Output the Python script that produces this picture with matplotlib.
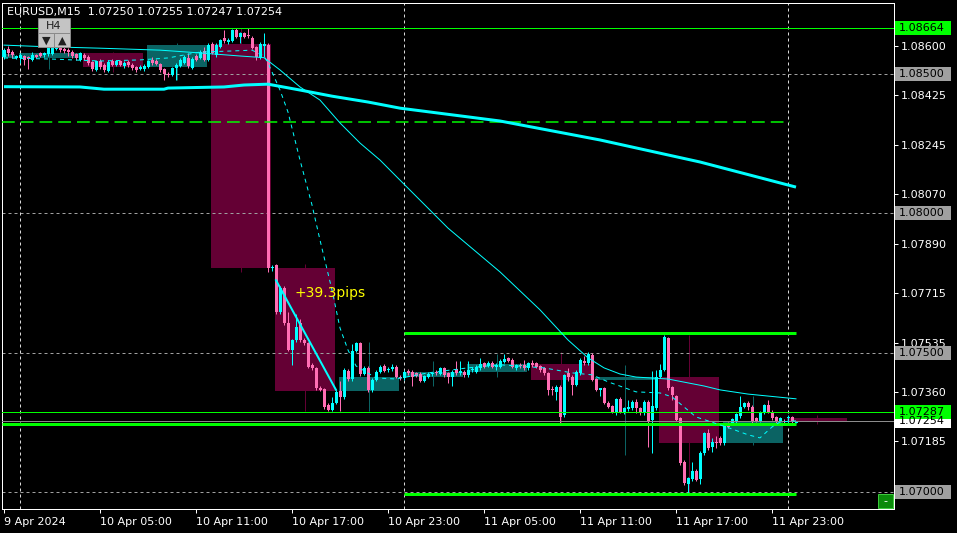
import matplotlib
matplotlib.use("Agg")
import matplotlib.pyplot as plt
import matplotlib.transforms as mtransforms
from matplotlib.patches import Rectangle
import numpy as np

title_text = "EURUSD,M15  1.07250 1.07255 1.07247 1.07254"

# M15 candles, bar 0 = 9 Apr 23:00
opens = [
    1.08561, 1.08590, 1.08580, 1.08558, 1.08558, 1.08563, 1.08560, 1.08549, 1.08568, 1.08573,
    1.08567, 1.08570, 1.08572, 1.08590, 1.08597, 1.08590, 1.08587, 1.08580, 1.08570, 1.08551,
    1.08568, 1.08562, 1.08542, 1.08515, 1.08547, 1.08533, 1.08512, 1.08547, 1.08533, 1.08545,
    1.08528, 1.08543, 1.08533, 1.08524, 1.08518, 1.08517, 1.08524, 1.08550, 1.08547, 1.08536,
    1.08518, 1.08500, 1.08497, 1.08521, 1.08528, 1.08540, 1.08558, 1.08522, 1.08565, 1.08558,
    1.08581, 1.08551, 1.08608, 1.08568, 1.08598, 1.08628, 1.08614, 1.08619, 1.08657, 1.08633,
    1.08645, 1.08640, 1.08629, 1.08597, 1.08558, 1.08600, 1.08605, 1.07804, 1.07815, 1.07647,
    1.07731, 1.07606, 1.07510, 1.07546, 1.07606, 1.07546, 1.07534, 1.07456, 1.07444, 1.07375,
    1.07369, 1.07313, 1.07295, 1.07319, 1.07364, 1.07340, 1.07436, 1.07405, 1.07508, 1.07535,
    1.07424, 1.07447, 1.07365, 1.07402, 1.07432, 1.07452, 1.07437, 1.07441, 1.07450, 1.07415,
    1.07408, 1.07436, 1.07432, 1.07426, 1.07424, 1.07400, 1.07412, 1.07424, 1.07432, 1.07424,
    1.07444, 1.07426, 1.07412, 1.07441, 1.07426, 1.07432, 1.07420, 1.07438, 1.07432, 1.07444,
    1.07462, 1.07452, 1.07464, 1.07450, 1.07450, 1.07468, 1.07480, 1.07474, 1.07444, 1.07458,
    1.07458, 1.07444, 1.07464, 1.07462, 1.07453, 1.07444, 1.07426, 1.07370, 1.07360, 1.07378,
    1.07277, 1.07426, 1.07414, 1.07385, 1.07426, 1.07472, 1.07462, 1.07492, 1.07405, 1.07367,
    1.07373, 1.07321, 1.07309, 1.07283, 1.07333, 1.07289, 1.07298, 1.07301, 1.07325, 1.07301,
    1.07283, 1.07325, 1.07258, 1.07301, 1.07412, 1.07438, 1.07552, 1.07378, 1.07345, 1.07265,
    1.07110, 1.07030, 1.07047, 1.07077, 1.07047, 1.07140, 1.07213, 1.07163, 1.07181, 1.07195,
    1.07176, 1.07247, 1.07247, 1.07253, 1.07273, 1.07307, 1.07321, 1.07307, 1.07265, 1.07257,
    1.07285, 1.07313, 1.07289, 1.07269, 1.07257, 1.07257, 1.07265, 1.07269, 1.07250,
]
highs = [
    1.08593, 1.08600, 1.08586, 1.08568, 1.08575, 1.08568, 1.08565, 1.08579, 1.08572, 1.08580,
    1.08578, 1.08600, 1.08600, 1.08600, 1.08604, 1.08595, 1.08592, 1.08584, 1.08574, 1.08580,
    1.08573, 1.08566, 1.08546, 1.08550, 1.08552, 1.08538, 1.08548, 1.08552, 1.08550, 1.08550,
    1.08545, 1.08548, 1.08538, 1.08528, 1.08530, 1.08534, 1.08550, 1.08562, 1.08552, 1.08540,
    1.08522, 1.08505, 1.08525, 1.08538, 1.08556, 1.08566, 1.08575, 1.08560, 1.08570, 1.08584,
    1.08595, 1.08612, 1.08615, 1.08612, 1.08626, 1.08658, 1.08630, 1.08662, 1.08664, 1.08650,
    1.08650, 1.08666, 1.08634, 1.08601, 1.08613, 1.08645, 1.08610, 1.07815, 1.07820, 1.07738,
    1.07738, 1.07645, 1.07550, 1.07640, 1.07620, 1.07552, 1.07540, 1.07462, 1.07450, 1.07380,
    1.07374, 1.07320, 1.07340, 1.07366, 1.07400, 1.07445, 1.07442, 1.07530, 1.07540, 1.07540,
    1.07452, 1.07452, 1.07408, 1.07440, 1.07455, 1.07460, 1.07448, 1.07460, 1.07455, 1.07420,
    1.07438, 1.07442, 1.07438, 1.07430, 1.07430, 1.07422, 1.07430, 1.07432, 1.07440, 1.07450,
    1.07450, 1.07430, 1.07438, 1.07470, 1.07470, 1.07438, 1.07470, 1.07448, 1.07456, 1.07480,
    1.07468, 1.07470, 1.07470, 1.07462, 1.07476, 1.07495, 1.07486, 1.07480, 1.07460, 1.07465,
    1.07474, 1.07468, 1.07475, 1.07468, 1.07458, 1.07450, 1.07430, 1.07380, 1.07384, 1.07384,
    1.07425, 1.07445, 1.07420, 1.07438, 1.07480, 1.07490, 1.07503, 1.07500, 1.07410, 1.07375,
    1.07378, 1.07326, 1.07314, 1.07338, 1.07340, 1.07306, 1.07330, 1.07330, 1.07335, 1.07306,
    1.07330, 1.07330, 1.07435, 1.07440, 1.07460, 1.07565, 1.07558, 1.07382, 1.07350, 1.07270,
    1.07115, 1.07056, 1.07110, 1.07082, 1.07147, 1.07216, 1.07228, 1.07195, 1.07200, 1.07200,
    1.07246, 1.07252, 1.07266, 1.07285, 1.07346, 1.07324, 1.07328, 1.07312, 1.07270, 1.07290,
    1.07318, 1.07330, 1.07294, 1.07274, 1.07270, 1.07262, 1.07278, 1.07274, 1.07255,
]
lows = [
    1.08554, 1.08565, 1.08558, 1.08554, 1.08540, 1.08533, 1.08517, 1.08545, 1.08558, 1.08560,
    1.08562, 1.08565, 1.08566, 1.08585, 1.08580, 1.08576, 1.08565, 1.08558, 1.08550, 1.08547,
    1.08550, 1.08533, 1.08512, 1.08510, 1.08518, 1.08508, 1.08506, 1.08528, 1.08528, 1.08528,
    1.08522, 1.08525, 1.08515, 1.08508, 1.08513, 1.08512, 1.08520, 1.08533, 1.08530, 1.08508,
    1.08479, 1.08490, 1.08492, 1.08479, 1.08524, 1.08535, 1.08522, 1.08518, 1.08545, 1.08552,
    1.08545, 1.08545, 1.08570, 1.08562, 1.08592, 1.08612, 1.08608, 1.08615, 1.08628, 1.08612,
    1.08628, 1.08628, 1.08588, 1.08550, 1.08552, 1.08561, 1.07790, 1.07795, 1.07640, 1.07640,
    1.07600, 1.07505, 1.07455, 1.07540, 1.07540, 1.07528, 1.07445, 1.07440, 1.07367, 1.07362,
    1.07300, 1.07290, 1.07290, 1.07315, 1.07290, 1.07335, 1.07400, 1.07400, 1.07503, 1.07418,
    1.07420, 1.07360, 1.07360, 1.07398, 1.07428, 1.07430, 1.07432, 1.07436, 1.07410, 1.07402,
    1.07404, 1.07420, 1.07380, 1.07412, 1.07395, 1.07395, 1.07408, 1.07418, 1.07420, 1.07420,
    1.07415, 1.07390, 1.07380, 1.07420, 1.07420, 1.07414, 1.07415, 1.07432, 1.07428, 1.07440,
    1.07445, 1.07448, 1.07445, 1.07440, 1.07445, 1.07462, 1.07466, 1.07445, 1.07440, 1.07446,
    1.07438, 1.07438, 1.07450, 1.07444, 1.07432, 1.07420, 1.07350, 1.07350, 1.07330, 1.07250,
    1.07270, 1.07400, 1.07350, 1.07380, 1.07420, 1.07455, 1.07458, 1.07398, 1.07362, 1.07345,
    1.07316, 1.07302, 1.07284, 1.07278, 1.07284, 1.07282, 1.07292, 1.07296, 1.07285, 1.07278,
    1.07278, 1.07163, 1.07140, 1.07296, 1.07408, 1.07433, 1.07368, 1.07330, 1.07254, 1.07099,
    1.07025, 1.06995, 1.07042, 1.07040, 1.07030, 1.07135, 1.07152, 1.07145, 1.07158, 1.07170,
    1.07170, 1.07230, 1.07242, 1.07248, 1.07268, 1.07302, 1.07295, 1.07248, 1.07252, 1.07252,
    1.07280, 1.07284, 1.07260, 1.07248, 1.07252, 1.07246, 1.07244, 1.07248, 1.07247,
]
closes = [
    1.08586, 1.08575, 1.08566, 1.08563, 1.08568, 1.08551, 1.08554, 1.08567, 1.08562, 1.08565,
    1.08573, 1.08591, 1.08592, 1.08594, 1.08586, 1.08582, 1.08579, 1.08563, 1.08556, 1.08575,
    1.08556, 1.08538, 1.08517, 1.08545, 1.08523, 1.08515, 1.08542, 1.08533, 1.08545, 1.08533,
    1.08540, 1.08530, 1.08521, 1.08515, 1.08526, 1.08529, 1.08545, 1.08538, 1.08536, 1.08513,
    1.08500, 1.08497, 1.08520, 1.08533, 1.08551, 1.08561, 1.08528, 1.08554, 1.08551, 1.08579,
    1.08551, 1.08605, 1.08575, 1.08605, 1.08622, 1.08616, 1.08621, 1.08657, 1.08633, 1.08645,
    1.08633, 1.08634, 1.08593, 1.08561, 1.08608, 1.08606, 1.07804, 1.07808, 1.07647, 1.07731,
    1.07606, 1.07510, 1.07546, 1.07594, 1.07546, 1.07534, 1.07450, 1.07444, 1.07373, 1.07367,
    1.07307, 1.07295, 1.07321, 1.07361, 1.07343, 1.07438, 1.07405, 1.07508, 1.07535, 1.07424,
    1.07447, 1.07365, 1.07402, 1.07432, 1.07450, 1.07436, 1.07443, 1.07450, 1.07415, 1.07408,
    1.07432, 1.07426, 1.07414, 1.07417, 1.07400, 1.07417, 1.07424, 1.07426, 1.07426, 1.07444,
    1.07420, 1.07412, 1.07432, 1.07426, 1.07436, 1.07420, 1.07438, 1.07442, 1.07450, 1.07460,
    1.07450, 1.07464, 1.07450, 1.07455, 1.07471, 1.07477, 1.07471, 1.07450, 1.07456, 1.07451,
    1.07444, 1.07462, 1.07456, 1.07450, 1.07438, 1.07426, 1.07367, 1.07365, 1.07378, 1.07271,
    1.07420, 1.07414, 1.07385, 1.07432, 1.07474, 1.07462, 1.07496, 1.07403, 1.07367, 1.07373,
    1.07321, 1.07307, 1.07289, 1.07333, 1.07289, 1.07301, 1.07305, 1.07325, 1.07301, 1.07283,
    1.07325, 1.07253, 1.07309, 1.07415, 1.07438, 1.07558, 1.07373, 1.07349, 1.07259, 1.07104,
    1.07032, 1.07050, 1.07077, 1.07044, 1.07142, 1.07211, 1.07158, 1.07181, 1.07176, 1.07176,
    1.07241, 1.07235, 1.07261, 1.07280, 1.07307, 1.07319, 1.07305, 1.07253, 1.07257, 1.07285,
    1.07313, 1.07289, 1.07265, 1.07253, 1.07265, 1.07251, 1.07271, 1.07253, 1.07254,
]

# H4 candles drawn as background boxes (first M15 bar of each)
h4_start = [-12, 4, 20, 36, 52, 68, 84, 100, 116, 132, 148, 164, 180, 196]
h4_open = [1.08556, 1.08558, 1.08575, 1.08526, 1.08608, 1.07804, 1.07363, 1.07413, 1.07430, 1.07459, 1.07403, 1.07415, 1.07176, 1.07265]
h4_high = [1.08600, 1.08604, 1.08580, 1.08612, 1.08666, 1.07820, 1.07540, 1.07470, 1.07495, 1.07503, 1.07457, 1.07565, 1.07346, 1.07278]
h4_low = [1.08540, 1.08517, 1.08506, 1.08479, 1.07790, 1.07290, 1.07290, 1.07380, 1.07413, 1.07250, 1.07135, 1.06995, 1.07170, 1.07244]
h4_close = [1.08572, 1.08575, 1.08526, 1.08605, 1.07804, 1.07363, 1.07413, 1.07430, 1.07459, 1.07403, 1.07415, 1.07176, 1.07251, 1.07254]

# moving averages, read at a few bars
slow_ma_idx = [0, 19, 25, 40, 41, 55, 60, 66, 74, 82, 91, 99, 124, 149, 174, 198]
slow_ma = [1.08454, 1.08453, 1.08445, 1.08445, 1.08449, 1.08453, 1.08460, 1.08463, 1.08442, 1.08420,
           1.08399, 1.08377, 1.08331, 1.08263, 1.08184, 1.08094]
mid_ma_idx = [0, 9, 24, 39, 49, 59, 65, 69, 74, 79, 84, 89, 94, 99, 111, 124, 134, 141, 146, 150,
              154, 158, 166, 175, 179, 186, 198]
mid_ma = [1.08603, 1.08598, 1.08592, 1.08585, 1.08575, 1.08564, 1.08558, 1.08514, 1.08453, 1.08406,
          1.08324, 1.08252, 1.08191, 1.08119, 1.07947, 1.07790, 1.07654, 1.07546, 1.07482, 1.07446,
          1.07424, 1.07413, 1.07406, 1.07381, 1.07367, 1.07352, 1.07335]
fast_ma_idx = [0, 12, 24, 34, 41, 49, 57, 62, 65, 66, 69, 71, 74, 77, 79, 82, 84, 86, 88, 93, 98,
               106, 116, 124, 135, 142, 147, 151, 158, 164, 167, 170, 173, 176, 182, 186, 189, 192,
               194, 198]
fast_ma = [1.08557, 1.08553, 1.08546, 1.08550, 1.08557, 1.08578, 1.08582, 1.08585, 1.08564, 1.08539,
           1.08442, 1.08363, 1.08191, 1.08030, 1.07904, 1.07725, 1.07589, 1.07510, 1.07453, 1.07410,
           1.07406, 1.07428, 1.07446, 1.07457, 1.07446, 1.07428, 1.07421, 1.07396, 1.07360, 1.07356,
           1.07342, 1.07306, 1.07270, 1.07256, 1.07227, 1.07206, 1.07195, 1.07234, 1.07252, 1.07256]

# drawn objects
trend_idx = [68, 83]
trend_px = [1.07760, 1.07367]
trend_label = "+39.3pips"
round_levels = [1.08500, 1.08000, 1.07500, 1.07000]
full_green_levels = [1.08664, 1.07287]
dashed_green_level = 1.08327
thick_green_levels = [1.07571, 1.07244, 1.06994]
thick_green_from = [100, -0.5, 100]
last_price = 1.07254
day_breaks = [4, 100, 196]

ytick_vals = [1.08600, 1.08425, 1.08245, 1.08070, 1.07890, 1.07715, 1.07535, 1.07360, 1.07185]
xtick_idx = [0, 24, 48, 72, 96, 120, 144, 168, 192]
xtick_labels = ["9 Apr 2024", "10 Apr 05:00", "10 Apr 11:00", "10 Apr 17:00", "10 Apr 23:00",
                "11 Apr 05:00", "11 Apr 11:00", "11 Apr 17:00", "11 Apr 23:00"]

BULL = "#00ffff"
BEAR = "#ff6eb4"
TEAL = "#0b6363"
MAROON = "#640034"
GREEN = "#00ff00"
GREY = "#a0a0a0"
PX = 0.72  # one pixel in points at dpi 100

W, H = 957, 533
L, R, T, B = 2, 894, 3, 509
fig = plt.figure(figsize=(W / 100, H / 100), dpi=100, facecolor="black")
ax = fig.add_axes([L / W, 1 - B / H, (R - L) / W, (B - T) / H])
ax.set_facecolor("black")
ax.set_xlim(-0.5, 222.5)
ax.set_ylim(1.06940, 1.08754)

# H4 boxes
for s, o_, h_, l_, c_ in zip(h4_start, h4_open, h4_high, h4_low, h4_close):
    col = TEAL if c_ >= o_ else MAROON
    ax.add_patch(Rectangle((s - 0.25, min(o_, c_)), 15, max(abs(c_ - o_), 0.00004),
                           fc=col, ec="none", zorder=1))
    ax.vlines(s + 7.25, l_, h_, colors=col, lw=PX, zorder=1)

for lv in round_levels:
    ax.axhline(lv, color=GREY, lw=PX, ls=(0, (3, 3)), zorder=2)
for d in day_breaks:
    ax.axvline(d, color="#d8d8d8", lw=PX, ls=(0, (3, 3)), zorder=2)

# candles
o = np.array(opens)
h = np.array(highs)
l = np.array(lows)
c = np.array(closes)
idx = np.arange(len(o))
cols = np.where(c >= o, BULL, BEAR)
ax.vlines(idx, l, h, colors=cols, lw=PX, zorder=4)
ax.bar(idx, np.maximum(np.abs(c - o), 0.00004), bottom=np.minimum(o, c), width=0.75,
       color=cols, linewidth=0, zorder=5)

# horizontal objects
for lv in full_green_levels:
    ax.axhline(lv, color=GREEN, lw=PX, zorder=6)
ax.axhline(last_price, color="#8c8c8c", lw=PX, zorder=6)
ax.hlines(dashed_green_level, -0.5, 196.5, color=GREEN, lw=1.5 * PX, ls=(0, (8.5, 4)), zorder=6)
for lv, x0 in zip(thick_green_levels, thick_green_from):
    ax.hlines(lv, x0, 198, color=GREEN, lw=3 * PX, zorder=6)

# moving averages and trend line
ax.plot(slow_ma_idx, slow_ma, color=BULL, lw=3 * PX, zorder=7, solid_capstyle="butt")
ax.plot(mid_ma_idx, mid_ma, color=BULL, lw=PX, zorder=7)
ax.plot(fast_ma_idx, fast_ma, color=BULL, lw=PX, ls=(0, (4, 4)), zorder=7)
ax.plot(trend_idx, trend_px, color=BULL, lw=2 * PX, zorder=7)
ax.text(72.7, 1.07700, trend_label, color="#ffff00", fontsize=10, va="baseline", ha="left", zorder=8)

# axes styling
for sp in ax.spines.values():
    sp.set_color("white")
    sp.set_linewidth(PX)
ax.yaxis.tick_right()
ax.set_yticks(ytick_vals)
ax.set_yticklabels([f"{v:.5f}" for v in ytick_vals])
ax.tick_params(axis="y", colors="white", labelsize=8, length=3, width=PX, pad=2)
ax.set_xticks(xtick_idx)
ax.set_xticklabels(xtick_labels, ha="left")
ax.tick_params(axis="x", colors="white", labelsize=8, length=3, width=PX, pad=3)

# price boxes on the right scale
blend = mtransforms.blended_transform_factory(ax.transAxes, ax.transData)
box_h = 14 * (1.08754 - 1.06940) / (B - T)
box_x0 = (895 - L) / (R - L)
box_w = 56 / (R - L)
price_boxes = [(v, GREY) for v in round_levels] + [(last_price, "white"), (1.07287, GREEN), (1.08664, GREEN)]
for v, fc in price_boxes:
    ax.add_patch(Rectangle((box_x0, v - box_h / 2), box_w, box_h, transform=blend,
                           fc=fc, ec="none", clip_on=False, zorder=9))
    ax.text(box_x0 + 4 / (R - L), v, f"{v:.5f}", transform=blend, color="black", fontsize=8,
            va="center", ha="left", clip_on=False, zorder=10)


def fpx(x, y):
    return x / W, 1 - y / H


fig.text(*fpx(7, 12), title_text, color="white", fontsize=8, va="center", ha="left")

# chart widgets: timeframe switcher and minimize button
for (x0, y0, x1, y1, lab) in [(38, 18, 70, 33, "H4"), (38, 33, 54, 47, "\u25bc"), (54, 33, 70, 47, "\u25b2")]:
    fx0, fy1 = fpx(x0, y1)
    fig.add_artist(Rectangle((fx0, fy1), (x1 - x0) / W, (y1 - y0) / H, transform=fig.transFigure,
                             fc="#c4c4c4", ec="#8a8a8a", lw=PX, zorder=20))
    fig.text(*fpx((x0 + x1) / 2, (y0 + y1) / 2 + 0.5), lab, color="#202020", fontsize=8,
             ha="center", va="center", zorder=21)
fx0, fy1 = fpx(878, 508)
fig.add_artist(Rectangle((fx0, fy1), 15 / W, 14 / H, transform=fig.transFigure,
                         fc="#0a8a0a", ec="#3cc83c", lw=PX, zorder=20))
fig.text(*fpx(885.5, 501), "-", color="white", fontsize=8, ha="center", va="center", zorder=21)

fig.savefig("out.png", dpi=100, facecolor="black")
